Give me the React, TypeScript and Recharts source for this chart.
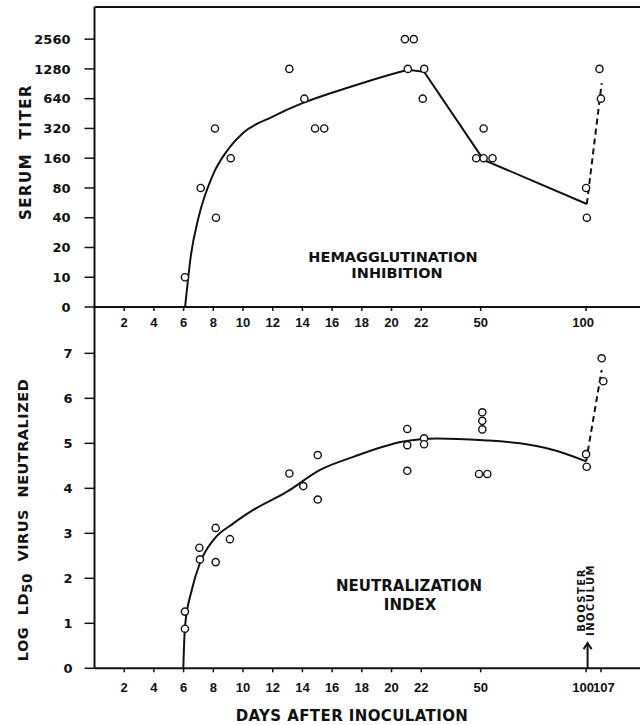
import React from "react";
import {
  ComposedChart,
  Line,
  Scatter,
  XAxis,
  YAxis,
  ReferenceLine,
  ReferenceDot,
} from "recharts";

// x values are positions on the broken day axis: days 0-22 are 1:1,
// then "50", "100" and "107" sit at 26, 33.1 and 34.1
const topTickPos = [2, 4, 6, 8, 10, 12, 14, 16, 18, 20, 22, 26, 33.1];
const bottomTickPos = [2, 4, 6, 8, 10, 12, 14, 16, 18, 20, 22, 26, 33.1, 34.1];
const tickPos = [2, 4, 6, 8, 10, 12, 14, 16, 18, 20, 22, 26, 33.1, 34.1];
const tickLabels = ["2", "4", "6", "8", "10", "12", "14", "16", "18", "20", "22", "50", "100", "107"];

// serum titer axis (two-fold steps)
const titerLevels = [0, 1, 2, 3, 4, 5, 6, 7, 8, 9];
const titerLabels = ["0", "10", "20", "40", "80", "160", "320", "640", "1280", "2560"];

// hemagglutination inhibition, observed titers
const hiX = [6.09, 7.15, 8.11, 8.18, 9.17, 13.12, 14.13, 14.85, 15.47, 20.9, 21.5, 21.1, 22.2, 22.1, 26.2, 25.7, 26.2, 26.8, 33.1, 33.15, 34.0, 34.1];
const hiTiter = [10, 80, 320, 40, 160, 1280, 640, 320, 320, 2560, 2560, 1280, 1280, 640, 320, 160, 160, 160, 80, 40, 1280, 640];

// fitted HI curve
const hiCurveX = [6.1, 6.5, 7, 8, 9, 10, 12, 14, 16, 18, 20, 21.1];
const hiCurveTiter = [0, 17, 40, 111, 197, 288, 422, 577, 735, 918, 1130, 1254];
const hiSegX = [21.1, 22.2, 26.2, 33.15];
const hiSegTiter = [1254, 1195, 154, 55];
const hiBoostX = [33.15, 34.15];
const hiBoostTiter = [55, 918];

// neutralization index
const niTicks = [0, 1, 2, 3, 4, 5, 6, 7];
const niX = [6.09, 6.09, 7.06, 7.1, 8.16, 8.16, 9.12, 13.12, 14.06, 15.03, 15.03, 21.06, 21.06, 21.06, 22.19, 22.19, 26.11, 26.11, 26.11, 25.89, 26.45, 34.15, 34.26, 33.1, 33.14];
const niVal = [1.26, 0.88, 2.68, 2.42, 3.12, 2.36, 2.87, 4.33, 4.05, 4.74, 3.75, 5.32, 4.96, 4.39, 5.11, 4.98, 5.69, 5.5, 5.31, 4.32, 4.32, 6.89, 6.38, 4.76, 4.48];

const niCurveX = [5.98, 6.09, 6.55, 7.1, 8.0, 9.35, 10.69, 12.94, 15.19, 17.43, 20.8, 23.04, 26.18, 28.65, 30.9, 33.1];
const niCurveVal = [0, 0.92, 1.74, 2.34, 2.85, 3.22, 3.52, 3.92, 4.41, 4.7, 5.04, 5.11, 5.07, 5.0, 4.85, 4.6];
const niBoostX = [33.1, 34.15];
const niBoostVal = [4.6, 6.63];

const boosterDay = 33.2;

const level = (t: number) => (t <= 0 ? 0 : 1 + Math.log2(t / 10));
const pts = (xs: number[], ys: number[], f = (v: number) => v) =>
  xs.map((x, i) => ({ x, y: f(ys[i]) }));

const INK = "#111";
const FONT = "'DejaVu Sans', sans-serif";

const tickText = (v: number) => {
  const i = tickPos.findIndex((p) => Math.abs(p - v) < 0.01);
  return i >= 0 ? tickLabels[i] : "";
};

const XTick = (props: any) => {
  const { x, y, payload } = props;
  const label = tickText(payload.value);
  const dx = label === "100" ? -3 : label === "107" ? 3 : 0;
  return (
    <text
      x={x + dx}
      y={y}
      dy="0.71em"
      textAnchor="middle"
      fill={INK}
      fontSize={13}
      fontWeight={700}
      fontFamily="'Liberation Sans', Arial, sans-serif"
    >
      {label}
    </text>
  );
};

const Ring = (p: any) => (
  <circle cx={p.cx} cy={p.cy} r={3.6} fill="#fff" stroke={INK} strokeWidth={1.4} />
);

const Arrowhead = (p: any) => (
  <path
    d={`M${p.cx - 4},${p.cy + 6} L${p.cx},${p.cy} L${p.cx + 4},${p.cy + 6}`}
    fill="none"
    stroke={INK}
    strokeWidth={2}
  />
);

const yTick = { fill: INK, fontSize: 13, fontWeight: 700, fontFamily: FONT };

const Rot = ({ x, y, style, children }: any) => (
  <div
    style={{
      position: "absolute",
      left: x,
      top: y,
      transform: "translate(-50%, -50%) rotate(-90deg)",
      whiteSpace: "nowrap",
      fontFamily: FONT,
      fontWeight: 700,
      color: INK,
      ...style,
    }}
  >
    {children}
  </div>
);

const Txt = ({ x, y, style, children }: any) => (
  <div
    style={{
      position: "absolute",
      left: x,
      top: y,
      transform: "translate(-50%, -50%)",
      whiteSpace: "nowrap",
      textAlign: "center",
      fontFamily: FONT,
      fontWeight: 700,
      color: INK,
      ...style,
    }}
  >
    {children}
  </div>
);

export default function App() {
  return (
    <div style={{ position: "absolute", left: 0, top: 0, width: 642, height: 725, background: "#fff" }}>
      <div style={{ position: "absolute", left: 0, top: 0 }}>
        <ComposedChart width={642} height={340} margin={{ top: 7, right: 2, left: 34.5, bottom: 3 }}>
          <XAxis
            type="number"
            dataKey="x"
            domain={[0, 36.73]}
            ticks={topTickPos}
            interval={0}
            allowDataOverflow
            height={30}
            tick={<XTick />}
            tickSize={4}
            tickMargin={7}
            axisLine={{ stroke: INK, strokeWidth: 2 }}
            tickLine={{ stroke: INK, strokeWidth: 1.5 }}
          />
          <YAxis
            type="number"
            dataKey="y"
            domain={[0, 10.08]}
            ticks={titerLevels}
            interval={0}
            allowDataOverflow
            width={60}
            tickFormatter={(v: number) => titerLabels[v] ?? ""}
            tick={yTick}
            tickSize={10}
            tickMargin={14}
            axisLine={{ stroke: INK, strokeWidth: 2 }}
            tickLine={{ stroke: INK, strokeWidth: 1.5 }}
          />
          <ReferenceLine y={10.08} stroke={INK} strokeWidth={2} />
          <Line data={pts(hiCurveX, hiCurveTiter, level)} dataKey="y" type="monotone" stroke={INK} strokeWidth={2} dot={false} isAnimationActive={false} />
          <Line data={pts(hiSegX, hiSegTiter, level)} dataKey="y" type="linear" stroke={INK} strokeWidth={2} dot={false} isAnimationActive={false} />
          <Line data={pts(hiBoostX, hiBoostTiter, level)} dataKey="y" type="linear" stroke={INK} strokeWidth={2} strokeDasharray="6 4" dot={false} isAnimationActive={false} />
          <Scatter data={pts(hiX, hiTiter, level)} dataKey="y" shape={Ring} isAnimationActive={false} />
        </ComposedChart>
      </div>

      <div style={{ position: "absolute", left: 0, top: 307 }}>
        <ComposedChart width={642} height={418} margin={{ top: 0, right: 2, left: 34.5, bottom: 26.7 }}>
          <XAxis
            type="number"
            dataKey="x"
            domain={[0, 36.73]}
            ticks={bottomTickPos}
            interval={0}
            allowDataOverflow
            height={30}
            tick={<XTick />}
            tickSize={4}
            tickMargin={10}
            axisLine={{ stroke: INK, strokeWidth: 2 }}
            tickLine={{ stroke: INK, strokeWidth: 1.5 }}
          />
          <YAxis
            type="number"
            dataKey="y"
            domain={[0, 8.03]}
            ticks={niTicks}
            interval={0}
            allowDataOverflow
            width={60}
            tick={yTick}
            tickSize={10}
            tickMargin={12}
            axisLine={{ stroke: INK, strokeWidth: 2 }}
            tickLine={{ stroke: INK, strokeWidth: 1.5 }}
          />
          <Line data={pts(niCurveX, niCurveVal)} dataKey="y" type="monotone" stroke={INK} strokeWidth={2} dot={false} isAnimationActive={false} />
          <Line data={pts(niBoostX, niBoostVal)} dataKey="y" type="linear" stroke={INK} strokeWidth={2} strokeDasharray="6 4" dot={false} isAnimationActive={false} />
          <Scatter data={pts(niX, niVal)} dataKey="y" shape={Ring} isAnimationActive={false} />
          <ReferenceLine
            segment={[
              { x: boosterDay, y: 0 },
              { x: boosterDay, y: 0.56 },
            ]}
            stroke={INK}
            strokeWidth={2}
          />
          <ReferenceDot x={boosterDay} y={0.56} shape={Arrowhead} />
        </ComposedChart>
      </div>

      <Rot x={26} y={152} style={{ fontSize: 15, letterSpacing: 1.5 }}>
        SERUM&nbsp; TITER
      </Rot>
      <Rot x={25} y={520} style={{ fontSize: 14.5, letterSpacing: 0.5, wordSpacing: 6 }}>
        LOG LD<sub style={{ fontSize: 13.5 }}>50</sub> VIRUS NEUTRALIZED
      </Rot>
      <Txt x={393} y={257} style={{ fontSize: 14.5 }}>
        HEMAGGLUTINATION
      </Txt>
      <Txt x={397} y={273} style={{ fontSize: 14.5 }}>
        INHIBITION
      </Txt>
      <Txt x={409} y={586} style={{ fontSize: 15 }}>
        NEUTRALIZATION
      </Txt>
      <Txt x={410} y={605} style={{ fontSize: 15 }}>
        INDEX
      </Txt>
      <Rot x={586} y={600} style={{ fontSize: 10, lineHeight: "9px", letterSpacing: 1.5, textAlign: "center" }}>
        BOOSTER
        <br />
        INOCULUM
      </Rot>
      <Txt x={352} y={716} style={{ fontSize: 15, letterSpacing: 0.4 }}>
        DAYS AFTER INOCULATION
      </Txt>
    </div>
  );
}
